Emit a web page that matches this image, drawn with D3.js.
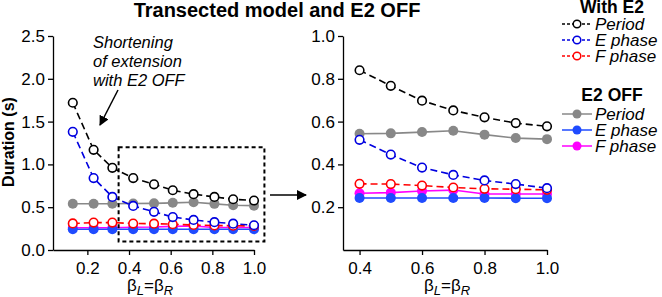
<!DOCTYPE html>
<html>
<head>
<meta charset="utf-8">
<script src="https://cdn.jsdelivr.net/npm/d3@7"></script>
<style>
  body { margin: 0; background: #fff; }
  svg { font-family: "Liberation Sans", Arial, sans-serif; }
  .axis path, .axis line { stroke: #000; stroke-width: 1.3; }
  .axis text { font-size: 17px; fill: #000; }
</style>
</head>
<body>
<div id="chart"></div>
<script>
var w = 662;
var h = 297;

// x values (beta_L = beta_R)
var betaLeft = [0.13, 0.23, 0.32, 0.42, 0.52, 0.61, 0.71, 0.81, 0.90, 1.0];
var betaRight = [0.4, 0.5, 0.6, 0.7, 0.8, 0.9, 1.0];

// durations (s), with E2
var periodE2 = [1.72, 1.17, 0.96, 0.84, 0.767, 0.698, 0.652, 0.62, 0.593, 0.578];
var ePhaseE2 = [1.38, 0.84, 0.62, 0.515, 0.446, 0.385, 0.351, 0.325, 0.308, 0.289];
var fPhaseE2 = [0.31, 0.32, 0.32, 0.309, 0.308, 0.301, 0.292, 0.286, 0.284, 0.281];

// durations (s), E2 OFF
var periodOff = [0.54, 0.54, 0.54, 0.543, 0.545, 0.551, 0.557, 0.539, 0.523, 0.518];
var ePhaseOff = [0.243, 0.243, 0.243, 0.243, 0.243, 0.243, 0.243, 0.243, 0.242, 0.242];
var fPhaseOff = [0.26, 0.26, 0.26, 0.265, 0.268, 0.276, 0.28, 0.262, 0.262, 0.262];

var leftYTicks = [0, 0.5, 1.0, 1.5, 2.0, 2.5];
var leftXTicks = [0.2, 0.4, 0.6, 0.8, 1.0];
var rightYTicks = [0.2, 0.4, 0.6, 0.8, 1.0];
var rightXTicks = [0.4, 0.6, 0.8, 1.0];

// zoom box drawn on the left panel (data units)
var boxX = [0.35, 1.05];
var boxY = [0.1, 1.2];

var series = [
  { name: "Period",  vals: periodOff, color: "#888888", open: false },
  { name: "F phase", vals: fPhaseOff, color: "#ff00ff", open: false },
  { name: "E phase", vals: ePhaseOff, color: "#1f4bff", open: false },
  { name: "F phase", vals: fPhaseE2,  color: "#ff0000", open: true },
  { name: "E phase", vals: ePhaseE2,  color: "#0000e0", open: true },
  { name: "Period",  vals: periodE2,  color: "#000000", open: true }
];

var svg = d3.select("#chart").append("svg")
  .attr("width", w).attr("height", h);

// arrowhead marker
svg.append("defs").append("marker")
  .attr("id", "arrow")
  .attr("viewBox", "0 0 10 10")
  .attr("refX", 9).attr("refY", 5)
  .attr("markerWidth", 10).attr("markerHeight", 10)
  .attr("markerUnits", "userSpaceOnUse")
  .attr("orient", "auto")
  .append("path").attr("d", "M0,0 L10,5 L0,10 Z").attr("fill", "#000");

function drawPanel(opts) {
  var x = d3.scaleLinear().domain(opts.xDomain).range(opts.xRange);
  var y = d3.scaleLinear().domain(opts.yDomain).range([250, 36]);

  var g = svg.append("g");

  g.append("g").attr("class", "axis")
    .attr("transform", "translate(0,250)")
    .call(d3.axisBottom(x).tickValues(opts.xTicks).tickFormat(d3.format(".1f"))
      .tickSize(5).tickSizeOuter(0).tickPadding(7));

  g.append("g").attr("class", "axis")
    .attr("transform", "translate(" + opts.xRange[0] + ",0)")
    .call(d3.axisLeft(y).tickValues(opts.yTicks).tickFormat(d3.format(".1f"))
      .tickSize(5).tickSizeOuter(0).tickPadding(3));

  var start = opts.start;
  var xs = opts.xs;

  series.forEach(function(s) {
    var pts = s.vals.slice(start).map(function(v, i) { return [xs[i], v]; });
    var line = d3.line().x(function(d) { return x(d[0]); }).y(function(d) { return y(d[1]); });
    g.append("path")
      .attr("d", line(pts))
      .attr("fill", "none")
      .attr("stroke", s.color)
      .attr("stroke-width", 1.6)
      .attr("stroke-dasharray", s.open ? "7,4" : null);
    g.selectAll(null).data(pts).enter().append("circle")
      .attr("cx", function(d) { return x(d[0]); })
      .attr("cy", function(d) { return y(d[1]); })
      .attr("r", s.open ? 4.3 : 5)
      .attr("fill", s.open ? "#fff" : s.color)
      .attr("stroke", s.color)
      .attr("stroke-width", s.open ? 1.6 : 0);
  });

  g.append("text")
    .attr("x", opts.labelX).attr("y", 291)
    .attr("text-anchor", "middle")
    .attr("font-size", 17)
    .call(function(t) {
      t.append("tspan").text("β");
      t.append("tspan").attr("font-style", "italic").attr("font-size", 13).attr("dy", 4).text("L");
      t.append("tspan").attr("dy", -4).text("=β");
      t.append("tspan").attr("font-style", "italic").attr("font-size", 13).attr("dy", 4).text("R");
    });

  return { x: x, y: y };
}

var left = drawPanel({
  xDomain: [0.035, 1.0], xRange: [53, 254],
  yDomain: [0, 2.5], xTicks: leftXTicks, yTicks: leftYTicks,
  xs: betaLeft, start: 0, labelX: 150
});

var right = drawPanel({
  xDomain: [0.347, 1.0], xRange: [343, 547],
  yDomain: [0, 1.0], xTicks: rightXTicks, yTicks: rightYTicks,
  xs: betaRight, start: 3, labelX: 447
});

// dashed zoom box
svg.append("rect")
  .attr("x", left.x(boxX[0]))
  .attr("y", left.y(boxY[1]))
  .attr("width", left.x(boxX[1]) - left.x(boxX[0]))
  .attr("height", left.y(boxY[0]) - left.y(boxY[1]))
  .attr("fill", "none").attr("stroke", "#000")
  .attr("stroke-width", 2).attr("stroke-dasharray", "4,3");

// arrow between panels
svg.append("line")
  .attr("x1", 270).attr("y1", 195).attr("x2", 306).attr("y2", 195)
  .attr("stroke", "#000").attr("stroke-width", 1.5)
  .attr("marker-end", "url(#arrow)");

// annotation
var note = svg.append("text").attr("font-size", 16.5).attr("font-style", "italic");
["Shortening", "of extension", "with E2 OFF"].forEach(function(t, i) {
  note.append("tspan").attr("x", 93).attr("y", 48 + i * 19).text(t);
});
svg.append("line")
  .attr("x1", 118).attr("y1", 90).attr("x2", 100).attr("y2", 125)
  .attr("stroke", "#000").attr("stroke-width", 1.5)
  .attr("marker-end", "url(#arrow)");

// title and y label
svg.append("text")
  .attr("x", 277).attr("y", 17)
  .attr("text-anchor", "middle")
  .attr("font-size", 20).attr("font-weight", "bold")
  .text("Transected model and E2 OFF");

svg.append("text")
  .attr("transform", "translate(14,142) rotate(-90)")
  .attr("text-anchor", "middle")
  .attr("font-size", 16).attr("font-weight", "bold")
  .text("Duration (s)");

// legend
function legendBlock(title, titleY, rows, rowY0, open) {
  svg.append("text")
    .attr("x", 612).attr("y", titleY)
    .attr("text-anchor", "middle")
    .attr("font-size", 17.5).attr("font-weight", "bold")
    .text(title);
  rows.forEach(function(r, i) {
    var cy = rowY0 + i * 16;
    svg.append("line")
      .attr("x1", 562).attr("x2", 592).attr("y1", cy).attr("y2", cy)
      .attr("stroke", r.color).attr("stroke-width", 1.5)
      .attr("stroke-dasharray", open ? "3,2" : null);
    svg.append("circle")
      .attr("cx", 577).attr("cy", cy)
      .attr("r", open ? 3.8 : 4.5)
      .attr("fill", open ? "#fff" : r.color)
      .attr("stroke", r.color).attr("stroke-width", open ? 1.5 : 0);
    svg.append("text")
      .attr("x", 595).attr("y", cy + 6)
      .attr("font-size", 17).attr("font-style", "italic")
      .text(r.name);
  });
}

legendBlock("With E2", 13, [series[5], series[4], series[3]], 24, true);
legendBlock("E2 OFF", 101, [series[0], series[2], series[1]], 114, false);
</script>
</body>
</html>
